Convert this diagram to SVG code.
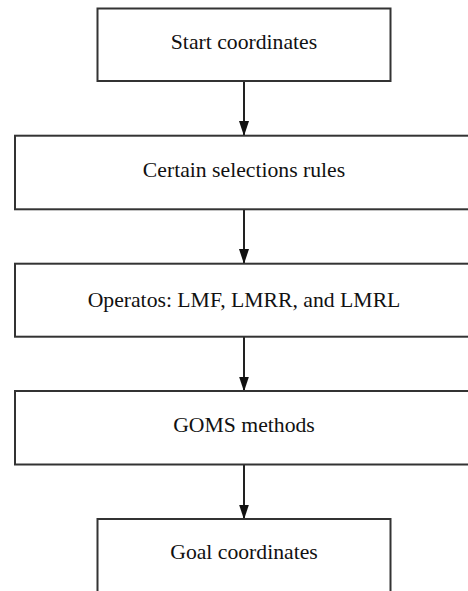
<svg xmlns="http://www.w3.org/2000/svg" width="468" height="591" viewBox="0 0 468 591">
<style>
.box{fill:#fff;stroke:#333;stroke-width:2}
.lbl{font-family:"Liberation Serif","Times New Roman",serif;font-size:21.7px;fill:#111;text-anchor:middle}
.con{stroke:#222;stroke-width:2;fill:none}
</style>
<defs>
<marker id="ah" markerUnits="userSpaceOnUse" markerWidth="15" markerHeight="10" viewBox="0 0 15 10" refX="14.5" refY="5" orient="auto">
<path d="M0,0 L15,5 L0,10 Z" fill="#111"/>
</marker>
</defs>
<rect width="468" height="591" fill="#fff"/>
<g id="connectors">
<line class="con" x1="244" y1="81" x2="244" y2="135.5" marker-end="url(#ah)"/>
<line class="con" x1="244" y1="209.5" x2="244" y2="263.5" marker-end="url(#ah)"/>
<line class="con" x1="244" y1="337" x2="244" y2="391" marker-end="url(#ah)"/>
<line class="con" x1="244" y1="464.5" x2="244" y2="519" marker-end="url(#ah)"/>
</g>
<g id="start">
<rect class="box" x="97.5" y="8.5" width="293" height="72.5"/>
<text class="lbl" x="244" y="49">Start coordinates</text>
</g>
<g id="selection">
<rect class="box" x="15" y="135.7" width="458" height="73.6"/>
<text class="lbl" x="244" y="177.3">Certain selections rules</text>
</g>
<g id="operators">
<rect class="box" x="15" y="263.7" width="458" height="73"/>
<text class="lbl" x="244" y="306.5">Operatos: LMF, LMRR, and LMRL</text>
</g>
<g id="methods">
<rect class="box" x="15" y="391" width="458" height="73.5"/>
<text class="lbl" x="244" y="431.7">GOMS methods</text>
</g>
<g id="goal">
<rect class="box" x="97.5" y="519" width="293" height="90"/>
<text class="lbl" x="244" y="559.3">Goal coordinates</text>
</g>
</svg>
